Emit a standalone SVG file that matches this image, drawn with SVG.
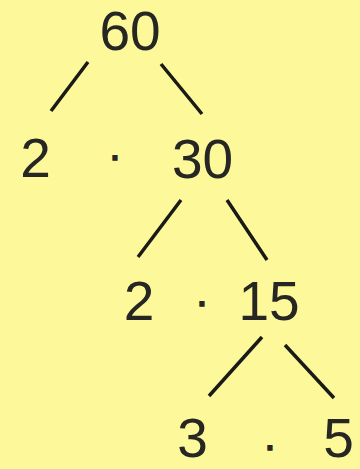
<svg xmlns="http://www.w3.org/2000/svg" width="360" height="469" viewBox="0 0 360 469">
<style>
.n{font-family:"Liberation Sans",Arial,sans-serif;font-size:55px;fill:#262622;text-anchor:middle}
.d{font-family:"Liberation Sans",Arial,sans-serif;font-size:40px;fill:#262622;stroke:#262622;stroke-width:1.4;text-anchor:middle}
.e{stroke:#1a1a16;stroke-width:3.5;stroke-linecap:butt;fill:none}
</style>
<rect width="360" height="469" fill="#fdf99b"/>
<g id="connectors">
<line class="e" x1="88" y1="62" x2="51" y2="111"/>
<line class="e" x1="161" y1="64" x2="202" y2="114"/>
<line class="e" x1="181" y1="200" x2="138" y2="257"/>
<line class="e" x1="227" y1="200" x2="267" y2="260"/>
<line class="e" x1="262" y1="337" x2="209" y2="396"/>
<line class="e" x1="285" y1="345" x2="334" y2="398"/>
</g>
<g id="n60"><text class="n" x="130" y="50">60</text></g>
<g id="n2a"><text class="n" x="35.5" y="177">2</text></g>
<g id="dot1"><text class="d" x="115" y="169">·</text></g>
<g id="n30"><text class="n" x="202.5" y="178">30</text></g>
<g id="n2b"><text class="n" x="139" y="320">2</text></g>
<g id="dot2"><text class="d" x="202" y="315">·</text></g>
<g id="n15"><text class="n" x="269" y="320">15</text></g>
<g id="n3"><text class="n" x="192.5" y="457">3</text></g>
<g id="dot3"><text class="d" x="270" y="459">·</text></g>
<g id="n5"><text class="n" x="338.5" y="457">5</text></g>
</svg>
